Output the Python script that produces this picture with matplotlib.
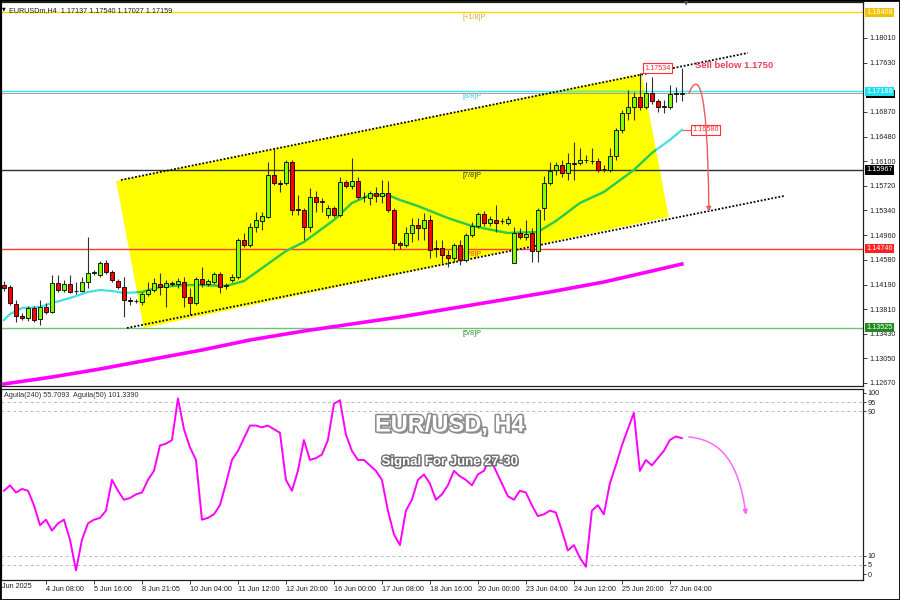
import matplotlib.pyplot as plt
import matplotlib.patheffects as pe
import matplotlib.transforms as mtransforms
from matplotlib.patches import Polygon, FancyArrowPatch, Rectangle
from matplotlib.path import Path
import numpy as np

plt.rcParams['font.family'] = ['Liberation Sans', 'DejaVu Sans']

# --- candles EURUSD H4 (one value per bar) ---
opens = [1.14186, 1.14155, 1.13892, 1.13706, 1.13675, 1.13830, 1.13660, 1.13845, 1.13768, 1.14217,
         1.14109, 1.14202, 1.14093, 1.14093, 1.14233, 1.14372, 1.14341, 1.14527, 1.14387, 1.14248,
         1.14155, 1.13954, 1.13938, 1.13923, 1.14047, 1.14109, 1.14202, 1.14155, 1.14217, 1.14202,
         1.14233, 1.14000, 1.13907, 1.14279, 1.14202, 1.14233, 1.14356, 1.14171, 1.14264, 1.14310,
         1.14883, 1.14805, 1.15084, 1.15177, 1.15239, 1.15889, 1.15765, 1.15765, 1.16090, 1.15363,
         1.15347, 1.15084, 1.15548, 1.15486, 1.15270, 1.15378, 1.15270, 1.15781, 1.15719, 1.15796,
         1.15548, 1.15533, 1.15610, 1.15564, 1.15610, 1.15347, 1.14836, 1.14805, 1.14991, 1.15115,
         1.15069, 1.15192, 1.14759, 1.14759, 1.14651, 1.14604, 1.14805, 1.14573, 1.14960, 1.15100,
         1.15285, 1.15146, 1.15192, 1.15177, 1.15146, 1.14527, 1.14991, 1.14929, 1.14991, 1.14712,
         1.15378, 1.15765, 1.15966, 1.16044, 1.15920, 1.16075, 1.16075, 1.16121, 1.16106, 1.16106,
         1.15982, 1.15966, 1.16183, 1.16586, 1.16849, 1.16942, 1.17096, 1.16942, 1.17158, 1.17035,
         1.16942, 1.16942, 1.17143, 1.17137]
highs = [1.14248, 1.14186, 1.13954, 1.13753, 1.13861, 1.13861, 1.13954, 1.13907, 1.14341, 1.14341,
         1.14264, 1.14341, 1.14233, 1.14310, 1.14929, 1.14418, 1.14558, 1.14573, 1.14418, 1.14279,
         1.14310, 1.14000, 1.13969, 1.14078, 1.14233, 1.14295, 1.14372, 1.14264, 1.14248, 1.14295,
         1.14310, 1.14140, 1.14310, 1.14465, 1.14279, 1.14387, 1.14387, 1.14217, 1.14356, 1.14914,
         1.14991, 1.15146, 1.15316, 1.15316, 1.16090, 1.16307, 1.15812, 1.16121, 1.16121, 1.15579,
         1.15378, 1.15688, 1.15641, 1.15533, 1.15425, 1.15409, 1.15858, 1.15812, 1.16152, 1.15858,
         1.15626, 1.15641, 1.15703, 1.15812, 1.15796, 1.15378, 1.14867, 1.15084, 1.15223, 1.15223,
         1.15301, 1.15270, 1.14883, 1.14883, 1.14728, 1.14836, 1.14883, 1.14991, 1.15161, 1.15316,
         1.15332, 1.15254, 1.15425, 1.15223, 1.15254, 1.15084, 1.15069, 1.15192, 1.15069, 1.15378,
         1.15873, 1.16090, 1.16090, 1.16121, 1.16230, 1.16400, 1.16307, 1.16199, 1.16307, 1.16152,
         1.16044, 1.16307, 1.16617, 1.16896, 1.17205, 1.17174, 1.17468, 1.17329, 1.17406, 1.17066,
         1.17050, 1.17282, 1.17251, 1.17540]
lows = [1.14093, 1.13876, 1.13613, 1.13644, 1.13629, 1.13613, 1.13567, 1.13737, 1.13753, 1.14078,
        1.14078, 1.14062, 1.14047, 1.14078, 1.14140, 1.14341, 1.14310, 1.14356, 1.14233, 1.14124,
        1.13691, 1.13876, 1.13907, 1.13876, 1.14016, 1.14078, 1.14031, 1.13845, 1.14171, 1.14140,
        1.13845, 1.13722, 1.13876, 1.14155, 1.14171, 1.14202, 1.14062, 1.14124, 1.14233, 1.14279,
        1.14774, 1.14774, 1.15007, 1.15038, 1.15223, 1.15734, 1.15626, 1.15734, 1.15270, 1.15270,
        1.14883, 1.15007, 1.15316, 1.15316, 1.15223, 1.15239, 1.15239, 1.15688, 1.15672, 1.15517,
        1.15471, 1.15425, 1.15471, 1.15456, 1.15316, 1.14728, 1.14743, 1.14774, 1.14852, 1.14883,
        1.14883, 1.14604, 1.14620, 1.14527, 1.14465, 1.14542, 1.14496, 1.14542, 1.14929, 1.15069,
        1.15100, 1.15100, 1.15007, 1.15131, 1.15115, 1.14520, 1.14898, 1.14883, 1.14542, 1.14542,
        1.15192, 1.15734, 1.15889, 1.15858, 1.15812, 1.15812, 1.16044, 1.16075, 1.16059, 1.15935,
        1.15935, 1.15935, 1.16121, 1.16539, 1.16740, 1.16740, 1.16896, 1.16911, 1.16988, 1.16864,
        1.16849, 1.16911, 1.17019, 1.17027]
closes = [1.14140, 1.13907, 1.13706, 1.13675, 1.13830, 1.13644, 1.13845, 1.13768, 1.14217, 1.14109,
          1.14202, 1.14078, 1.14090, 1.14233, 1.14372, 1.14387, 1.14527, 1.14387, 1.14264, 1.14155,
          1.13954, 1.13938, 1.13941, 1.14047, 1.14109, 1.14217, 1.14155, 1.14217, 1.14202, 1.14248,
          1.14000, 1.13907, 1.14279, 1.14202, 1.14248, 1.14356, 1.14155, 1.14186, 1.14310, 1.14883,
          1.14805, 1.15084, 1.15192, 1.15254, 1.15889, 1.15765, 1.15750, 1.16090, 1.15347, 1.15347,
          1.15084, 1.15548, 1.15471, 1.15471, 1.15378, 1.15270, 1.15781, 1.15719, 1.15796, 1.15548,
          1.15545, 1.15610, 1.15564, 1.15610, 1.15347, 1.14836, 1.14805, 1.14991, 1.15115, 1.15069,
          1.15192, 1.14728, 1.14743, 1.14651, 1.14604, 1.14805, 1.14573, 1.14960, 1.15100, 1.15285,
          1.15146, 1.15208, 1.15146, 1.15174, 1.15208, 1.14991, 1.14929, 1.14976, 1.14712, 1.15347,
          1.15765, 1.15951, 1.16044, 1.15920, 1.16075, 1.16059, 1.16121, 1.16118, 1.16103, 1.15966,
          1.15979, 1.16183, 1.16586, 1.16849, 1.16942, 1.17096, 1.16942, 1.17158, 1.17035, 1.16942,
          1.16957, 1.17143, 1.17158, 1.17159]

# moving averages (bar index, price)
ma_fast_x = [0, 1, 3, 6, 8, 11, 14, 16, 18, 20, 23, 26, 30, 33, 37, 40, 47, 50, 55, 58, 61,
             64, 66, 69, 74, 78, 84, 89, 92, 96, 100, 105, 108, 111, 113]
ma_fast_y = [1.13644, 1.13737, 1.13830, 1.13845, 1.13907, 1.13985, 1.14078, 1.14109, 1.14093,
             1.14062, 1.14078, 1.14155, 1.14186, 1.14186, 1.14171, 1.14248, 1.14712, 1.14852,
             1.15192, 1.15456, 1.15579, 1.15579, 1.15502, 1.15409, 1.15223, 1.15100, 1.14991,
             1.15007, 1.15177, 1.15456, 1.15626, 1.15966, 1.16230, 1.16431, 1.16586]
ma_slow_x = [0, 8, 16, 24, 33, 41, 50, 58, 66, 74, 83, 91, 100, 108, 113]
ma_slow_y = [1.12654, 1.12762, 1.12886, 1.13025, 1.13180, 1.13335, 1.13474, 1.13583, 1.13691,
             1.13815, 1.13954, 1.14078, 1.14233, 1.14403, 1.14511]

# Aguila oscillator
aguila = [46, 49, 45, 47, 46, 38, 27, 30, 24, 28,
          30, 19, 2, 19, 28, 30, 31, 35, 52, 46,
          41, 42, 44, 45, 52, 57, 71, 72, 74, 97,
          80, 70, 63, 30, 31, 33, 38, 50, 63, 68,
          75, 82, 82, 81, 82, 80, 78, 52, 46, 57,
          74, 63, 64, 66, 74, 94, 96, 77, 68, 63,
          63, 60, 57, 52, 35, 22, 16, 35, 41, 52,
          55, 50, 41, 44, 49, 57, 54, 52, 49, 55,
          57, 64, 57, 50, 43, 41, 46, 45, 38, 32,
          33, 35, 34, 24, 13, 16, 9, 4, 35, 38,
          33, 50, 60, 71, 80, 89, 57, 63, 60, 64,
          68, 74, 76, 75]

# channel (bar index, price)
channel_poly = [(18.7, 1.15796), (106.3, 1.17453), (110.8, 1.15239), (23.3, 1.13521)]
upper_line = [(19.5, 1.15812), (124.0, 1.17778)]
lower_line = [(20.5, 1.13521), (130.0, 1.15564)]

# murrey levels
levels = [1.18408, 1.17188, 1.15967, 1.14746, 1.13525]
level_names = ['[+1/8]P', '[8/8]P', '[7/8]P', '[6/8]P', '[5/8]P']
level_colors = ['#FFD200', '#3FE6F0', '#303030', '#FF3B30', '#6CC46C']
level_box = ['#F2C200', '#20E0F0', '#000000', '#FF2020', '#1E8C1E']
level_text = ['#D9A93A', '#3FC8E8', '#303030', '#E84020', '#2E8B2E']

price_ticks = [1.18010, 1.17630, 1.16870, 1.16480, 1.16100, 1.15720, 1.15340,
               1.14960, 1.14580, 1.14190, 1.13810, 1.13430, 1.13050, 1.12670]
xtick_pos = [7, 15, 23, 31, 39, 47, 55, 63, 71, 79, 87, 95, 103, 111]
xtick_labels = ['4 Jun 08:00', '5 Jun 16:00', '8 Jun 21:05', '10 Jun 04:00', '11 Jun 12:00',
                '12 Jun 20:00', '16 Jun 00:00', '17 Jun 08:00', '18 Jun 16:00', '20 Jun 00:00',
                '23 Jun 04:00', '24 Jun 12:00', '25 Jun 20:00', '27 Jun 04:00']
osc_ticks = [0, 5, 10, 90, 95, 100]

fig = plt.figure(figsize=(9, 6), dpi=100)
ax = fig.add_axes([1/900, 214/600, 862/900, 384/600])
osc = fig.add_axes([1/900, 20/600, 862/900, 191/600])

for a in (ax, osc):
    a.set_xlim(-0.5, 143.2)
    for s in a.spines.values():
        s.set_color('#202020')
        s.set_linewidth(0.9)
ax.set_ylim(1.12623, 1.18567)
osc.set_ylim(-3.3, 102.2)

# channel background
poly = Polygon(channel_poly, closed=True, facecolor='#FFFF00', edgecolor='none', zorder=1)
ax.add_patch(poly)
for ln in (upper_line, lower_line):
    ax.plot([p[0] for p in ln], [p[1] for p in ln], color='black', lw=1.3,
            linestyle=(0, (1, 1)), zorder=3)

# levels
for lv, name, col, tcol in zip(levels, level_names, level_colors, level_text):
    ax.axhline(lv, color=col, lw=1.0, zorder=2)
    ax.annotate(name, (76.5, lv), xytext=(0, -1.5), textcoords='offset points',
                fontsize=5.2, color=tcol, va='top', ha='left', zorder=2)
g8 = ax.axhline(levels[1], color='#66EE66', lw=1.0, zorder=2.05)
g8.set_clip_path(poly)
ax.axhline(closes[-1], color='#A0A0A0', lw=0.7, zorder=2)

# moving averages
ax.plot(ma_slow_x, ma_slow_y, color='#FF00FF', lw=2.6, zorder=2)
ax.plot(ma_fast_x, ma_fast_y, color='#40E0E0', lw=1.6, zorder=2)
ma_green, = ax.plot(ma_fast_x, ma_fast_y, color='#33CC33', lw=1.6, zorder=2.1)
ma_green.set_clip_path(poly)

# candles
x = np.arange(len(opens))
o, h, l, c = map(np.array, (opens, highs, lows, closes))
up = c >= o
ax.vlines(x, l, h, color='#303030', lw=0.8, zorder=4)
ax.bar(x, np.abs(c - o), bottom=np.minimum(o, c), width=0.62,
       color=np.where(up, '#7FFF00', '#FF0000'), edgecolor='black', linewidth=0.6, zorder=5)

# price axis on the right
ax.yaxis.tick_right()
ax.set_yticks(price_ticks)
ax.set_yticklabels([f'{v:.5f}' for v in price_ticks])
ax.tick_params(axis='y', labelsize=5.2, length=3, width=0.6, pad=1.5, colors='#202020')
ax.set_xticks([])

trans = mtransforms.blended_transform_factory(ax.transAxes, ax.transData)
# current bid box, mostly hidden under the 8/8 box
ax.add_patch(Rectangle((1.004, closes[-1] - 0.00075), 0.033, 0.0012, transform=trans,
                       facecolor='black', edgecolor='none', clip_on=False, zorder=6))
for lv, bc in zip(levels, level_box):
    ax.text(1.004, lv, f'{lv:.5f}', transform=trans, fontsize=5.2, color='white',
            va='center', ha='left', clip_on=False, zorder=7,
            bbox=dict(boxstyle='square,pad=0.15', fc=bc, ec='none'))

# annotations
ax.text(106.8, 1.17545, '1.17534', fontsize=5.2, color='#FF3030', va='center', ha='left', zorder=8,
        bbox=dict(boxstyle='square,pad=0.2', fc='white', ec='#FF3030', lw=0.8))
ax.plot([113.2, 114.6], [ma_fast_y[-1], ma_fast_y[-1]], color='#FF5050', lw=0.8, zorder=6)
ax.text(114.7, ma_fast_y[-1], f'{ma_fast_y[-1]:.5f}', fontsize=5.2, color='#FF3030',
        va='center', ha='left', zorder=8,
        bbox=dict(boxstyle='square,pad=0.2', fc='white', ec='#FF3030', lw=0.8))
ax.text(115.2, 1.17585, 'Sell below 1.1750', fontsize=6.8, fontweight='bold',
        color='#E8405A', va='center', ha='left', zorder=8)
sell_path = Path([(114.2, 1.17158), (115.5, 1.1745), (117.3, 1.1745), (117.5, 1.1532)],
                 [Path.MOVETO, Path.CURVE4, Path.CURVE4, Path.CURVE4])
ax.add_patch(FancyArrowPatch(path=sell_path, arrowstyle='-|>', mutation_scale=7,
                             color='#F05A5A', lw=1.0, zorder=8))
ax.text(0.009, 0.988, 'EURUSDm,H4  1.17137 1.17540 1.17027 1.17159', transform=ax.transAxes,
        fontsize=5.2, color='#202020', va='top', ha='left')
ax.text(0.001, 0.988, '▼', transform=ax.transAxes, fontsize=3.5, color='black',
        va='top', ha='left', family='DejaVu Sans')

# oscillator
for lv in (5, 10, 90, 95):
    osc.axhline(lv, color='#B8B8B8', lw=0.7, linestyle=(0, (3, 3)))
osc.plot(x, aguila, color='#FF00FF', lw=1.4, zorder=3)
osc_path = Path([(114.2, 75.7), (119.5, 74.0), (122.5, 62.0), (123.7, 32.6)],
                [Path.MOVETO, Path.CURVE4, Path.CURVE4, Path.CURVE4])
osc.add_patch(FancyArrowPatch(path=osc_path, arrowstyle='-|>', mutation_scale=7,
                              color='#FF66FF', lw=1.1, zorder=4))
osc.text(0.003, 0.985, 'Aguila(240) 55.7093  Aguila(50) 101.3390', transform=osc.transAxes,
         fontsize=5.2, color='#303030', va='top', ha='left')
osc.yaxis.tick_right()
osc.set_yticks(osc_ticks)
osc.set_yticklabels([str(t) for t in osc_ticks])
osc.tick_params(axis='y', labelsize=5.2, length=2, width=0.6, pad=1.5, colors='#202020')
osc.set_xticks(xtick_pos)
osc.set_xticklabels(xtick_labels)
osc.tick_params(axis='x', labelsize=5.2, length=3, width=0.6, pad=1.5, colors='#202020')
for lab in osc.get_xticklabels():
    lab.set_ha('left')
fig.text(2/900, 1 - 586/600, 'Jun 2025', fontsize=5.2, color='#202020', va='center', ha='left')

# centre titles
fig.text(0.5, 1 - 425/600, 'EUR/USD, H4', fontsize=17, fontweight='bold', color='white',
         ha='center', va='center',
         path_effects=[pe.withSimplePatchShadow(offset=(1.5, -1.5), shadow_rgbFace='#606060', alpha=0.7),
                       pe.withStroke(linewidth=2.2, foreground='#8C8C8C')])
fig.text(0.5, 1 - 462/600, 'Signal For June 27-30', fontsize=9.5, fontweight='bold', color='white',
         ha='center', va='center',
         path_effects=[pe.withSimplePatchShadow(offset=(1, -1), shadow_rgbFace='#404040', alpha=0.7),
                       pe.withStroke(linewidth=2.0, foreground='#707070')])

# chart shift marker and outer frame
fig.text(686/900, 1 - 1/600, '▼', fontsize=4, color='#505050', ha='center', va='top',
         family='DejaVu Sans')
fig.add_artist(Rectangle((0, 0), 1, 1, transform=fig.transFigure, fill=False,
                         edgecolor='black', lw=2))

fig.savefig('out.png', dpi=100)
